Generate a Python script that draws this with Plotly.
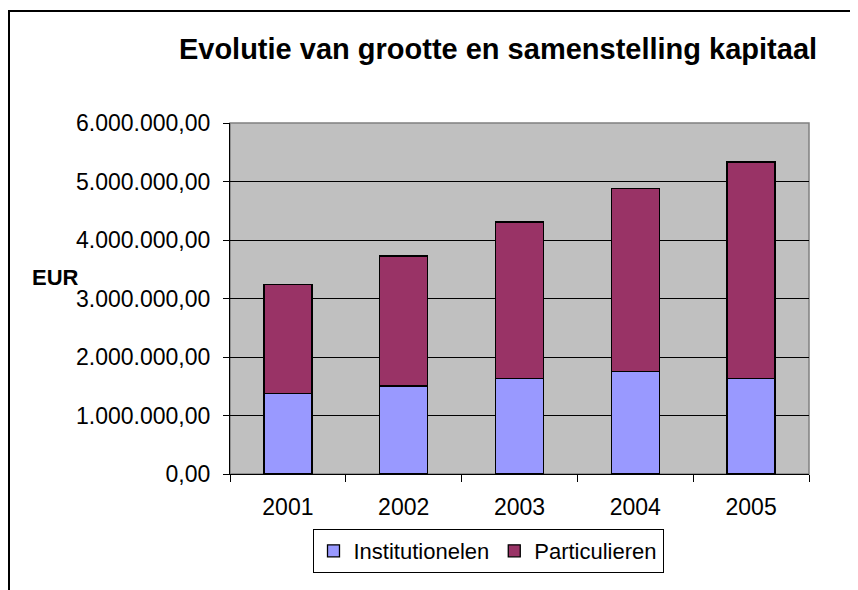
import plotly.graph_objects as go

years = ["2001", "2002", "2003", "2004", "2005"]
institutionelen = [1377000, 1503000, 1633000, 1753000, 1633000]
particulieren = [1867000, 2225000, 2676000, 3125000, 3700000]

FONT = "Liberation Sans, Arial, sans-serif"

fig = go.Figure()
fig.add_trace(go.Bar(x=years, y=institutionelen, name="Institutionelen",
                     marker=dict(color="#9999FF", line=dict(color="#000000", width=1.3)),
                     width=0.415))
fig.add_trace(go.Bar(x=years, y=particulieren, name="Particulieren",
                     marker=dict(color="#993366", line=dict(color="#000000", width=1.3)),
                     width=0.415))

# the page body adds an 8px margin, so figure coords = reference coords - 8
OFF = 8
W, H = 858 - OFF, 590 - OFF
L, R, T, B = 230 - OFF, 809 - OFF, 123 - OFF, 474 - OFF
pw, ph = R - L, B - T

def px(x):
    return (x - OFF - L) / pw

def py(y):
    return (B - (y - OFF)) / ph

fig.update_layout(
    width=W, height=H,
    barmode="stack",
    separators=",.",
    margin=dict(l=L, r=W - R, t=T, b=H - B),
    paper_bgcolor="#FFFFFF",
    plot_bgcolor="#C0C0C0",
    font=dict(family=FONT, size=23, color="#000000"),
    title=dict(text="<b>Evolutie van grootte en samenstelling kapitaal</b>",
               x=(498 - OFF) / W, xanchor="center", y=1 - (49 - OFF) / H, yanchor="middle",
               font=dict(size=29, family=FONT)),
    showlegend=True,
    legend=dict(orientation="h", x=px(488), xanchor="center", y=py(551), yanchor="middle",
                bordercolor="#000000", borderwidth=1, bgcolor="#FFFFFF",
                font=dict(size=22, family=FONT), itemwidth=30,
                tracegroupgap=0, traceorder="normal"),
)

fig.update_xaxes(showline=True, linecolor="#000000", linewidth=1.3,
                 ticks="outside", ticklen=7, tickcolor="#000000", tickson="boundaries",
                 showgrid=False, tickfont=dict(size=23), ticklabelstandoff=12)
fig.update_yaxes(range=[0, 6000000], dtick=1000000, tickformat=",.2f",
                 showline=True, linecolor="#000000", linewidth=1.3,
                 ticks="outside", ticklen=6, tickcolor="#000000",
                 showgrid=True, gridcolor="#000000", gridwidth=1,
                 zeroline=False, tickfont=dict(size=23), ticklabelstandoff=8)

# plot area border (gray top/right)
fig.add_shape(type="rect", xref="paper", yref="paper", x0=0, x1=1, y0=0, y1=1,
              line=dict(color="#808080", width=1.5), layer="below")
# outer chart border
fig.add_shape(type="rect", xref="paper", yref="paper",
              x0=px(9), x1=px(853.5), y0=py(11), y1=py(620),
              line=dict(color="#000000", width=2))

fig.add_annotation(text="<b>EUR</b>", xref="paper", yref="paper",
                   x=px(30), xanchor="left", y=py(277), yanchor="middle",
                   showarrow=False, font=dict(size=22, family=FONT))

fig.write_html("out.html")
